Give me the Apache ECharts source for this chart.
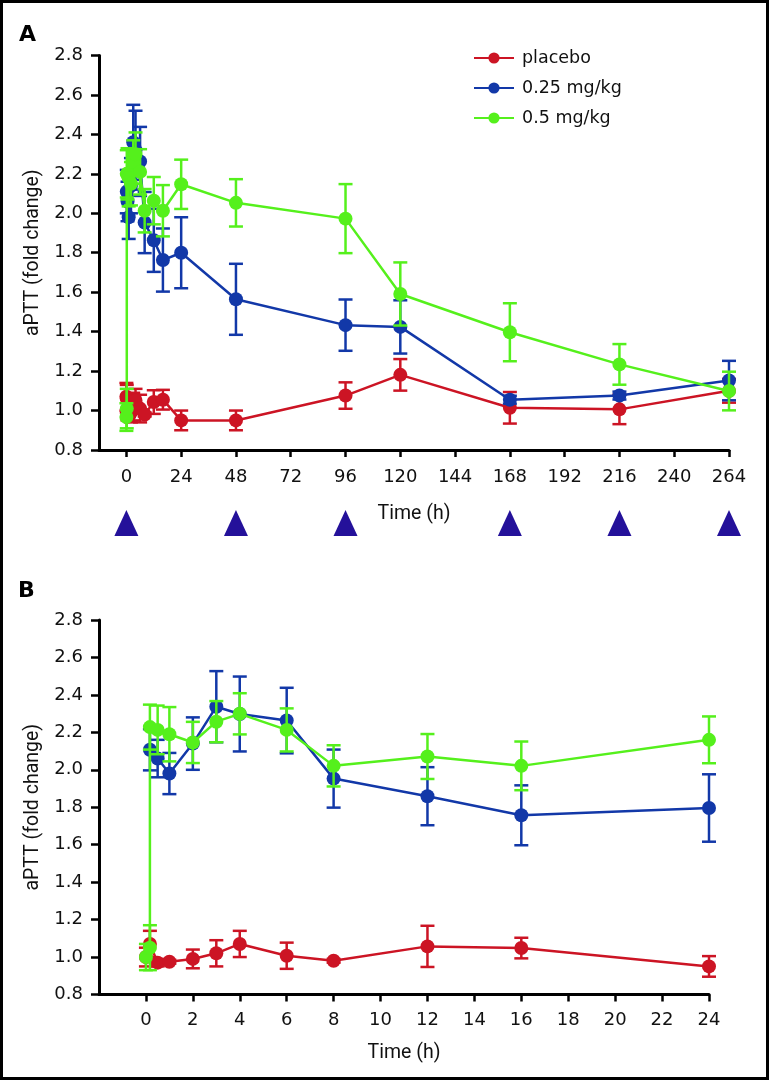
<!DOCTYPE html>
<html><head><meta charset="utf-8">
<script src="https://cdn.jsdelivr.net/npm/echarts@6/dist/echarts.min.js"></script>
<style>html,body{margin:0;padding:0;background:#fff}#c{width:769px;height:1080px}</style>
</head><body><div id="c"></div>
<script>
// ---------- DATA ----------
const seriesNames = ['placebo', '0.25 mg/kg', '0.5 mg/kg'];
const xTicksA = [0, 24, 48, 72, 96, 120, 144, 168, 192, 216, 240, 264];
const xTicksB = [0, 2, 4, 6, 8, 10, 12, 14, 16, 18, 20, 22, 24];
const doseTimes = [0, 48, 96, 168, 216, 264];

// Panel A (0–264 h)
const tA_placebo = [0, 0.17, 0.5, 1, 2, 3, 4, 6, 8, 12, 16, 24, 48, 96, 120, 168, 216, 264];
const placeboA    = [1.07, 1.06, 0.97, 0.975, 0.99, 1.02, 1.05, 1.01, 0.98, 1.043, 1.055, 0.95, 0.95, 1.076, 1.181, 1.014, 1.006, 1.10];
const placeboAErr = [0.07, 0.07, 0.02, 0.01, 0.05, 0.07, 0.06, 0.07, 0.01, 0.06, 0.05, 0.05, 0.05, 0.067, 0.08, 0.08, 0.075, 0.06];

const tA_low = [0.17, 0.5, 1, 2, 3, 4, 6, 8, 12, 16, 24, 48, 96, 120, 168, 216, 264];
const lowA    = [2.11, 2.06, 1.98, 2.14, 2.36, 2.32, 2.263, 1.953, 1.863, 1.763, 1.80, 1.564, 1.433, 1.424, 1.055, 1.076, 1.152];
const lowAErr = [0.11, 0.10, 0.11, 0.14, 0.19, 0.2, 0.175, 0.155, 0.16, 0.16, 0.18, 0.18, 0.13, 0.135, 0.02, 0.02, 0.1];

const tA_high = [0, 0.17, 0.17, 0.5, 1, 2, 3, 4, 6, 8, 12, 16, 24, 48, 96, 120, 168, 216, 264];
const highA    = [0.967, 1.01, 2.2, 2.2, 2.18, 2.15, 2.26, 2.3, 2.21, 2.013, 2.064, 2.013, 2.147, 2.053, 1.973, 1.591, 1.397, 1.234, 1.099];
const highAErr = [0.07, 0.1, 0.12, 0.13, 0.145, 0.11, 0.11, 0.11, 0.115, 0.11, 0.12, 0.13, 0.125, 0.12, 0.175, 0.16, 0.147, 0.103, 0.098];

// Panel B (0–24 h)
const tB_placebo = [0, 0.17, 0.5, 1, 2, 3, 4, 6, 8, 12, 16, 24];
const placeboB    = [1.0, 1.07, 0.97, 0.975, 0.99, 1.02, 1.07, 1.007, 0.98, 1.057, 1.048, 0.95];
const placeboBErr = [0.05, 0.07, 0.02, 0.01, 0.05, 0.07, 0.07, 0.07, 0.01, 0.11, 0.055, 0.055];

const tB_low = [0.17, 0.5, 1, 2, 3, 4, 6, 8, 12, 16, 24];
const lowB    = [2.107, 2.06, 1.98, 2.14, 2.337, 2.298, 2.263, 1.953, 1.859, 1.757, 1.796];
const lowBErr = [0.11, 0.10, 0.11, 0.14, 0.19, 0.2, 0.175, 0.155, 0.155, 0.16, 0.18];

const tB_high = [0, 0.17, 0.17, 0.5, 1, 2, 3, 4, 6, 8, 12, 16, 24];
const highB    = [1.0, 1.05, 2.228, 2.213, 2.19, 2.146, 2.257, 2.299, 2.213, 2.021, 2.071, 2.021, 2.16];
const highBErr = [0.07, 0.12, 0.12, 0.13, 0.145, 0.11, 0.11, 0.11, 0.115, 0.11, 0.12, 0.13, 0.125];

// ---------- STYLE ----------
const colors = ['#cc1424', '#1238a8', '#55f01c'];
const TICKFONT = "'DejaVu Sans', Roboto, sans-serif";
const NAMEFONT = "Roboto, sans-serif";
const chart = echarts.init(document.getElementById('c'), null, {renderer: 'canvas'});

function lineSeries(name, gi, times, vals, color, z) {
  return {
    type: 'line', name: name, xAxisIndex: gi, yAxisIndex: gi,
    data: times.map((t, i) => [t, vals[i]]),
    symbol: 'circle', symbolSize: 14, showSymbol: true,
    lineStyle: {color: color, width: 2.5},
    itemStyle: {color: color},
    z: z, animation: false, clip: false
  };
}
function errSeries(gi, times, vals, errs, color, z) {
  return {
    type: 'custom', xAxisIndex: gi, yAxisIndex: gi,
    data: times.map((t, i) => [t, vals[i], errs[i]]),
    encode: {x: 0, y: 1},
    z: z, animation: false, silent: true,
    renderItem: function (params, api) {
      const x = api.value(0), v = api.value(1), e = api.value(2);
      const top = api.coord([x, v + e]);
      const bot = api.coord([x, v - e]);
      const hw = 7;
      const st = {stroke: color, lineWidth: 2.5};
      return {type: 'group', children: [
        {type: 'line', shape: {x1: top[0], y1: top[1], x2: bot[0], y2: bot[1]}, style: st},
        {type: 'line', shape: {x1: top[0] - hw, y1: top[1], x2: top[0] + hw, y2: top[1]}, style: st},
        {type: 'line', shape: {x1: bot[0] - hw, y1: bot[1], x2: bot[0] + hw, y2: bot[1]}, style: st}
      ]};
    }
  };
}

function xAxis(gi, min, max, ticks) {
  return {
    type: 'value', gridIndex: gi, min: min, max: max,
    name: 'Time (h)', nameLocation: 'middle', nameGap: gi === 0 ? 54 : 49,
    nameTextStyle: {fontFamily: NAMEFONT, fontSize: 19.5, color: '#111'},
    axisLine: {show: true, onZero: false, lineStyle: {color: '#000', width: 3}},
    axisTick: {show: true, customValues: ticks, length: 7, lineStyle: {color: '#000', width: 2.5}},
    axisLabel: {customValues: ticks, fontFamily: TICKFONT, fontSize: 18, color: '#111', margin: gi === 0 ? 18 : 17},
    splitLine: {show: false}
  };
}
function yAxis(gi) {
  return {
    type: 'value', gridIndex: gi, min: 0.8, max: 2.8, interval: 0.2,
    name: 'aPTT (fold change)', nameLocation: 'middle', nameGap: 55,
    nameTextStyle: {fontFamily: NAMEFONT, fontSize: 19.5, color: '#111'},
    axisLine: {show: true, onZero: false, lineStyle: {color: '#000', width: 3}},
    axisTick: {show: true, length: 8, lineStyle: {color: '#000', width: 2.5}},
    axisLabel: {fontFamily: TICKFONT, fontSize: 18, color: '#111', margin: 16,
      formatter: v => v.toFixed(1)},
    splitLine: {show: false}
  };
}

const option = {
  backgroundColor: '#fff',
  animation: false,
  textStyle: {fontFamily: TICKFONT},
  grid: [
    {left: 99, right: 40, top: 55.5, height: 394.5},
    {left: 99, right: 60, top: 620, height: 374.5},
    {left: 99, right: 40, top: 510, height: 26}
  ],
  xAxis: [
    xAxis(0, -12, 264, xTicksA),
    xAxis(1, -2, 24, xTicksB),
    {type: 'value', gridIndex: 2, min: -12, max: 264, show: false}
  ],
  yAxis: [
    yAxis(0), yAxis(1),
    {type: 'value', gridIndex: 2, min: -1, max: 1, show: false}
  ],
  legend: {
    orient: 'vertical', left: 473, top: 48, padding: 0,
    itemWidth: 40, itemHeight: 14, itemGap: 10,
    data: seriesNames,
    textStyle: {fontFamily: TICKFONT, fontSize: 17.5, color: '#111', lineHeight: 20, padding: [0, 0, 0, 3]}
  },
  graphic: [
    {type: 'rect', shape: {x: 1.5, y: 1.5, width: 766, height: 1077},
      style: {fill: 'none', stroke: '#000', lineWidth: 3}, z: 100},
    {type: 'text', left: 19, top: 24, style: {text: 'A', font: "bold 22px 'DejaVu Sans'", fill: '#000'}},
    {type: 'text', left: 18, top: 580, style: {text: 'B', font: "bold 22px 'DejaVu Sans'", fill: '#000'}}
  ],
  series: [
    lineSeries(seriesNames[0], 0, tA_placebo, placeboA, colors[0], 2),
    errSeries(0, tA_placebo, placeboA, placeboAErr, colors[0], 2),
    lineSeries(seriesNames[1], 0, tA_low, lowA, colors[1], 3),
    errSeries(0, tA_low, lowA, lowAErr, colors[1], 3),
    lineSeries(seriesNames[2], 0, tA_high, highA, colors[2], 4),
    errSeries(0, tA_high, highA, highAErr, colors[2], 4),

    lineSeries(seriesNames[0], 1, tB_placebo, placeboB, colors[0], 2),
    errSeries(1, tB_placebo, placeboB, placeboBErr, colors[0], 2),
    lineSeries(seriesNames[1], 1, tB_low, lowB, colors[1], 3),
    errSeries(1, tB_low, lowB, lowBErr, colors[1], 3),
    lineSeries(seriesNames[2], 1, tB_high, highB, colors[2], 4),
    errSeries(1, tB_high, highB, highBErr, colors[2], 4),

    {type: 'scatter', xAxisIndex: 2, yAxisIndex: 2,
      data: doseTimes.map(t => [t, 0]),
      symbol: 'triangle', symbolSize: [24, 26],
      itemStyle: {color: '#24119a', opacity: 1}, silent: true, animation: false}
  ]
};
chart.setOption(option);
</script>
</body></html>
